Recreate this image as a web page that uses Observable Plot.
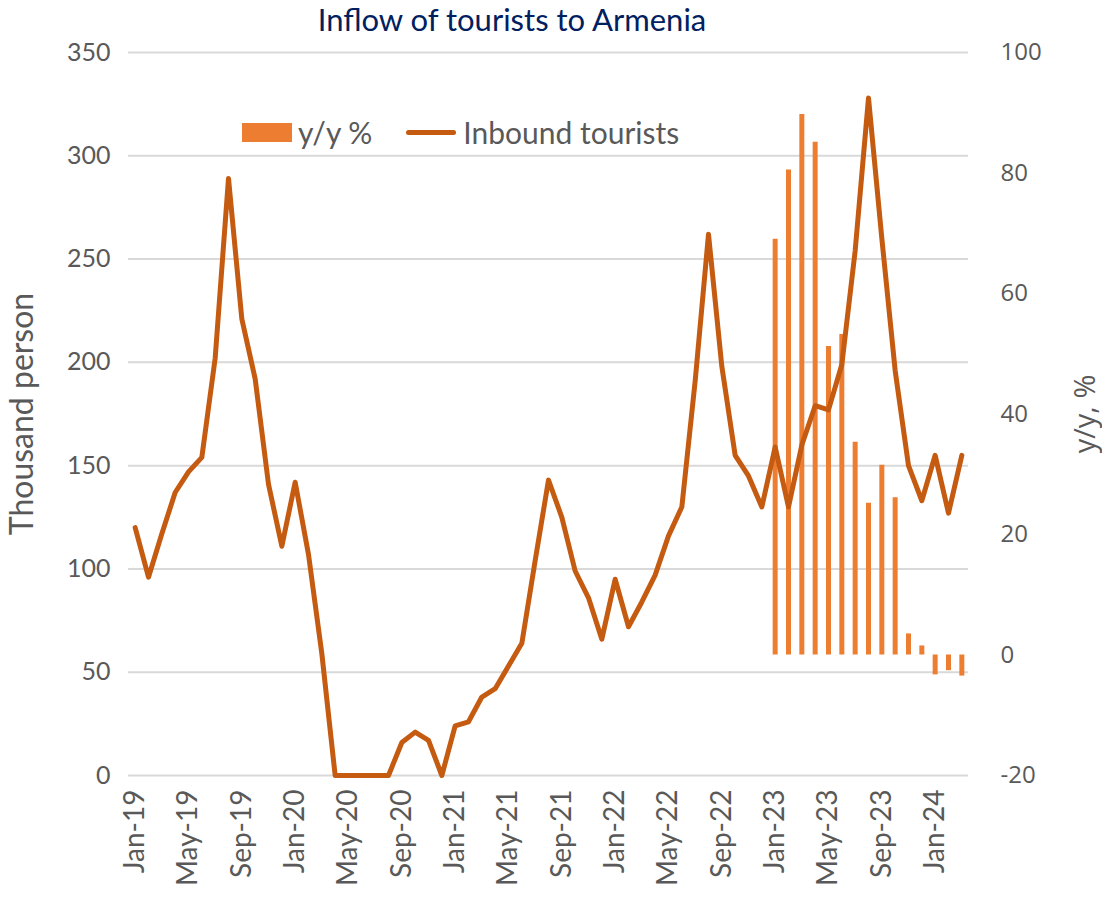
<!DOCTYPE html>
<html><head><meta charset="utf-8">
<script src="https://cdn.jsdelivr.net/npm/d3@7"></script>
<script src="https://cdn.jsdelivr.net/npm/@observablehq/plot@0.6"></script>
<style>
body{margin:0;background:#fff;}
#wrap{position:relative;width:1102px;height:899px;overflow:hidden;}
#title{width:1024px;height:38px;line-height:38px;text-align:center;font-family:Lato,sans-serif;font-size:31px;color:#002060;}
#legend{position:absolute;left:242px;top:114px;font-family:Lato,sans-serif;font-size:30px;color:#595959;display:flex;align-items:center;white-space:nowrap;}
.sw-bar{display:inline-block;width:50px;height:19px;background:#ed7d31;margin-right:6px;}
.sw-line{display:inline-block;width:50px;height:5px;border-radius:3px;background:#c55a11;margin-left:34px;margin-right:7px;}
</style></head><body>
<div id="wrap">
<div id="title">Inflow of tourists to Armenia</div>
<div id="chart"></div>
<div id="legend"><span class="sw-bar"></span><span>y/y %</span><span class="sw-line"></span><span>Inbound tourists</span></div>
</div>
<script>
const months = [
"Jan-19","Feb-19","Mar-19","Apr-19","May-19","Jun-19","Jul-19","Aug-19","Sep-19","Oct-19","Nov-19","Dec-19",
"Jan-20","Feb-20","Mar-20","Apr-20","May-20","Jun-20","Jul-20","Aug-20","Sep-20","Oct-20","Nov-20","Dec-20",
"Jan-21","Feb-21","Mar-21","Apr-21","May-21","Jun-21","Jul-21","Aug-21","Sep-21","Oct-21","Nov-21","Dec-21",
"Jan-22","Feb-22","Mar-22","Apr-22","May-22","Jun-22","Jul-22","Aug-22","Sep-22","Oct-22","Nov-22","Dec-22",
"Jan-23","Feb-23","Mar-23","Apr-23","May-23","Jun-23","Jul-23","Aug-23","Sep-23","Oct-23","Nov-23","Dec-23",
"Jan-24","Feb-24","Mar-24"];
const inboundTourists = [
120,96,117,137,147,154,202,289,221,192,141,111,
142,107,59,0,0,0,0,0,16,21,17,0,
24,26,38,42,53,64,104,143,125,99,86,66,
95,72,84,97,116,130,191,262,198,155,145,130,
159,130,160,179,177,199,254,328,260,196,150,133,
155,127,155];
const yoyMonths = ["Jan-23","Feb-23","Mar-23","Apr-23","May-23","Jun-23","Jul-23","Aug-23","Sep-23","Oct-23","Nov-23","Dec-23","Jan-24","Feb-24","Mar-24"];
const yoyPct = [69,80.5,89.7,85.1,51.2,53.2,35.3,25.2,31.5,26.1,3.5,1.5,-3.3,-2.6,-3.5];
const xTickLabels = ["Jan-19","May-19","Sep-19","Jan-20","May-20","Sep-20","Jan-21","May-21","Sep-21","Jan-22","May-22","Sep-22","Jan-23","May-23","Sep-23","Jan-24"];
const leftTicks = [0,50,100,150,200,250,300,350];
const rightTicks = [-20,0,20,40,60,80,100];

const LMIN = 0, LMAX = 350, RMIN = -20, RMAX = 100;
const toLeft = p => LMIN + (p - RMIN) * (LMAX - LMIN) / (RMAX - RMIN);
const toRight = v => RMIN + (v - LMIN) * (RMAX - RMIN) / (LMAX - LMIN);

const lineData = months.map((m, i) => ({month: m, value: inboundTourists[i]}));
const barData = yoyMonths.map((m, i) => ({month: m, pct: yoyPct[i]}));

const gray = "#595959";
const chart = Plot.plot({
  width: 1102, height: 861,
  marginTop: 14, marginBottom: 124, marginLeft: 128, marginRight: 134,
  style: {fontFamily: "Lato, sans-serif", color: gray, background: "#fff", overflow: "visible"},
  x: {type: "band", domain: months, padding: 0, round: false, axis: null},
  y: {domain: [LMIN, LMAX], axis: null},
  marks: [
    Plot.gridY(leftTicks, {stroke: "#d9d9d9", strokeOpacity: 1, strokeWidth: 2}),
    Plot.axisY(leftTicks, {anchor: "left", tickSize: 0, tickPadding: 18, fontSize: 25, fill: gray, label: null}),
    Plot.axisY(rightTicks.map(toLeft), {anchor: "right", tickSize: 0, tickPadding: 32, fontSize: 24, fill: gray, label: null,
      fontFamily: "'Open Sans', sans-serif", tickFormat: d => String(Math.round(toRight(d)))}),
    Plot.axisX(xTickLabels, {anchor: "bottom", tickSize: 0, tickPadding: 14, tickRotate: -90, fontSize: 28, fill: gray, label: null}),
    Plot.text(["Thousand person"], {frameAnchor: "left", dx: -106, rotate: -90, textAnchor: "middle", fontSize: 32, fill: gray}),
    Plot.text(["y/y, %"], {frameAnchor: "right", dx: 117, rotate: -90, textAnchor: "middle", fontSize: 29, fill: gray, fontFamily: "'Open Sans', sans-serif"}),
    Plot.ruleX(barData, {x: "month", y1: () => toLeft(0), y2: d => toLeft(d.pct), stroke: "#ed7d31", strokeWidth: 5}),
    Plot.line(lineData, {x: "month", y: "value", stroke: "#c55a11", strokeWidth: 5, strokeLinejoin: "round", strokeLinecap: "round"})
  ]
});
document.getElementById("chart").appendChild(chart);
</script>
</body></html>
